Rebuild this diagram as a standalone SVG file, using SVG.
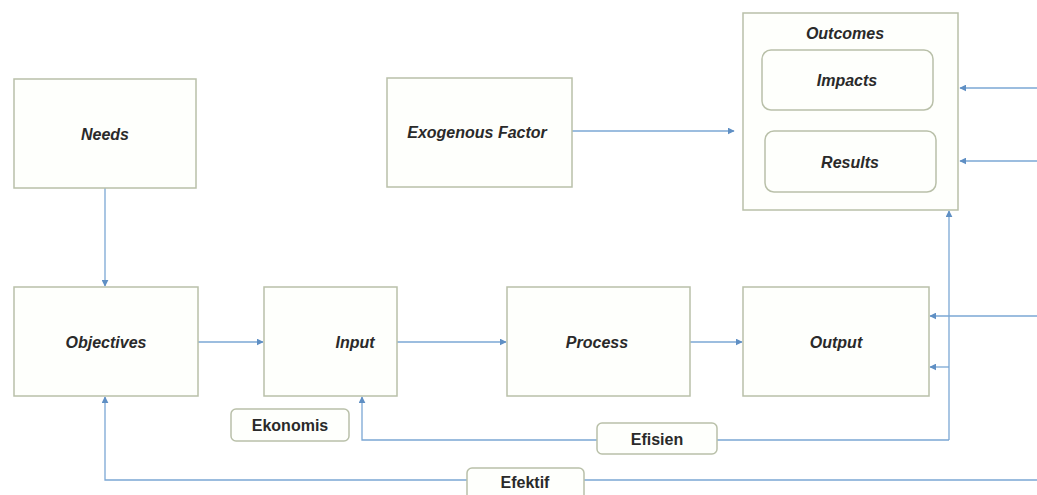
<svg xmlns="http://www.w3.org/2000/svg" width="1037" height="495" viewBox="0 0 1037 495">
<style>
.box{fill:#fefffc;stroke:#b9c0a9;stroke-width:1.5}
.rbox{fill:#fefffc;stroke:#b9c0a9;stroke-width:1.5}
.t{font-family:"Liberation Sans",Arial,sans-serif;font-weight:bold;font-style:italic;font-size:16px;fill:#2a2a2a;text-anchor:middle;dominant-baseline:central}
.l{font-family:"Liberation Sans",Arial,sans-serif;font-weight:bold;font-size:16px;fill:#2a2a2a;text-anchor:middle;dominant-baseline:central}
.c{fill:none;stroke:#7ba7d4;stroke-width:1.3}
</style>
<defs>
<marker id="a" viewBox="0 0 10 10" refX="9" refY="5" markerWidth="7" markerHeight="7" orient="auto" markerUnits="userSpaceOnUse">
<path d="M0,0 L10,5 L0,10 z" fill="#5f8fc4"/>
</marker>
</defs>
<rect width="1037" height="495" fill="#ffffff"/>
<g id="connectors">
<path class="c" d="M105,188 V286" marker-end="url(#a)"/>
<path class="c" d="M198,342 H263" marker-end="url(#a)"/>
<path class="c" d="M397,342 H506" marker-end="url(#a)"/>
<path class="c" d="M690,342 H742" marker-end="url(#a)"/>
<path class="c" d="M572,131 H734" marker-end="url(#a)"/>
<path class="c" d="M850,131 V111" marker-end="url(#a)"/>
<path class="c" d="M1037,88 H960" marker-end="url(#a)"/>
<path class="c" d="M1037,161 H960" marker-end="url(#a)"/>
<path class="c" d="M1037,316 H930" marker-end="url(#a)"/>
<path class="c" d="M949,367 H930" marker-end="url(#a)"/>
<path class="c" d="M949,440 V211" marker-end="url(#a)"/>
<path class="c" d="M949,440 H362 V397" marker-end="url(#a)"/>
<path class="c" d="M1037,480 H105 V397" marker-end="url(#a)"/>
</g>
<g id="needs"><rect class="box" x="14" y="79" width="182" height="109"/><text class="t" x="105" y="134">Needs</text></g>
<g id="exogenous"><rect class="box" x="387" y="78" width="185" height="109"/><text class="t" x="477" y="132">Exogenous Factor</text></g>
<g id="outcomes"><rect class="box" x="743" y="13" width="215" height="197"/><text class="t" x="845" y="33">Outcomes</text></g>
<g id="impacts"><rect class="rbox" x="762" y="50" width="171" height="60" rx="9"/><text class="t" x="847" y="80">Impacts</text></g>
<g id="results"><rect class="rbox" x="765" y="131" width="171" height="61" rx="9"/><text class="t" x="850" y="162">Results</text></g>
<g id="objectives"><rect class="box" x="14" y="287" width="184" height="109"/><text class="t" x="106" y="342">Objectives</text></g>
<g id="input"><rect class="box" x="264" y="287" width="133" height="109"/><text class="t" x="355" y="342">Input</text></g>
<g id="process"><rect class="box" x="507" y="287" width="183" height="109"/><text class="t" x="597" y="342">Process</text></g>
<g id="output"><rect class="box" x="743" y="287" width="186" height="109"/><text class="t" x="836" y="342">Output</text></g>
<g id="ekonomis"><rect class="rbox" x="231" y="409" width="118" height="32" rx="5"/><text class="l" x="290" y="425">Ekonomis</text></g>
<g id="efisien"><rect class="rbox" x="597" y="423" width="120" height="31" rx="5"/><text class="l" x="657" y="439">Efisien</text></g>
<g id="efektif"><rect class="rbox" x="467" y="468" width="117" height="34" rx="5"/><text class="l" x="525" y="482">Efektif</text></g>
</svg>
